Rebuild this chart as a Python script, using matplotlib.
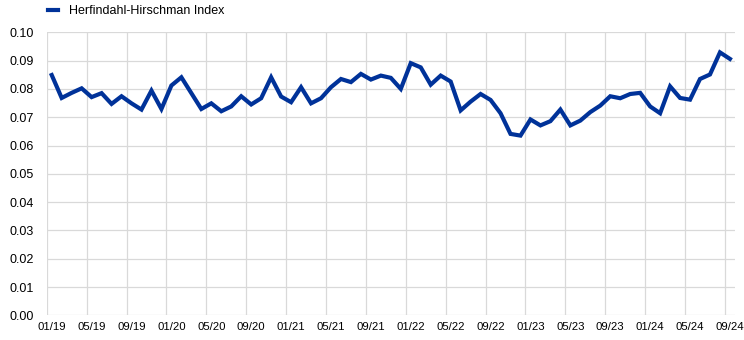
import matplotlib
matplotlib.use("Agg")
import matplotlib.pyplot as plt
import numpy as np

plt.rcParams['font.family'] = ['Liberation Sans', 'DejaVu Sans']

# monthly values, 01/19 .. 09/24
hhi = [0.0849, 0.0768, 0.0786, 0.0802, 0.0771, 0.0785, 0.0747, 0.0774, 0.0749, 0.0727, 0.0794, 0.0729,
       0.0812, 0.0841, 0.0785, 0.0729, 0.0749, 0.0721, 0.0738, 0.0774, 0.0745, 0.0767, 0.0841, 0.0773,
       0.0753, 0.0806, 0.0749, 0.0767, 0.0806, 0.0835, 0.0824, 0.0853, 0.0833, 0.0847, 0.0839, 0.0800,
       0.0891, 0.0876, 0.0815, 0.0847, 0.0826, 0.0724, 0.0755, 0.0782, 0.0761, 0.0714, 0.0641, 0.0635,
       0.0692, 0.0671, 0.0686, 0.0727, 0.0671, 0.0688, 0.0718, 0.0741, 0.0774, 0.0767, 0.0782, 0.0786,
       0.0738, 0.0714, 0.0809, 0.0768, 0.0762, 0.0835, 0.0851, 0.0929, 0.0906]
month_labels = ["01/19", "05/19", "09/19", "01/20", "05/20", "09/20", "01/21", "05/21", "09/21",
                "01/22", "05/22", "09/22", "01/23", "05/23", "09/23", "01/24", "05/24", "09/24"]
yticks = [0.00, 0.01, 0.02, 0.03, 0.04, 0.05, 0.06, 0.07, 0.08, 0.09, 0.10]

x = np.arange(len(hhi))

fig = plt.figure(figsize=(7.44, 3.4), dpi=100)
ax = fig.add_axes([0.0628, 0.0726, 0.925, 0.8324])

ax.plot(x, hhi, color='#003299', lw=3.0, solid_joinstyle='miter',
        label="Herfindahl-Hirschman Index", zorder=3)

ax.set_xlim(-0.5, len(hhi) - 0.5)
ax.set_ylim(0, 0.10)
ax.set_yticks(yticks)
ax.set_yticklabels(["%.2f" % v for v in yticks])
ax.set_xticks(np.arange(0, len(hhi), 4))
ax.set_xticklabels(month_labels)
ax.set_xticks(np.arange(0, len(hhi), 4) - 0.5, minor=True)

ax.grid(axis='y', color='#d9d9d9', lw=0.9)
ax.grid(axis='x', which='minor', color='#d9d9d9', lw=0.9)
ax.set_axisbelow(True)
for sp in ax.spines.values():
    sp.set_visible(False)
ax.tick_params(which='both', length=0, colors='#000000')
ax.tick_params(axis='y', pad=9, labelsize=9)
ax.tick_params(axis='x', pad=5, labelsize=8.2)

ax.legend(loc='lower left', bbox_to_anchor=(-0.005, 1.035), frameon=False,
          fontsize=9, handlelength=0.75, handletextpad=0.9, borderaxespad=0)

fig.savefig("out.png", dpi=100)
